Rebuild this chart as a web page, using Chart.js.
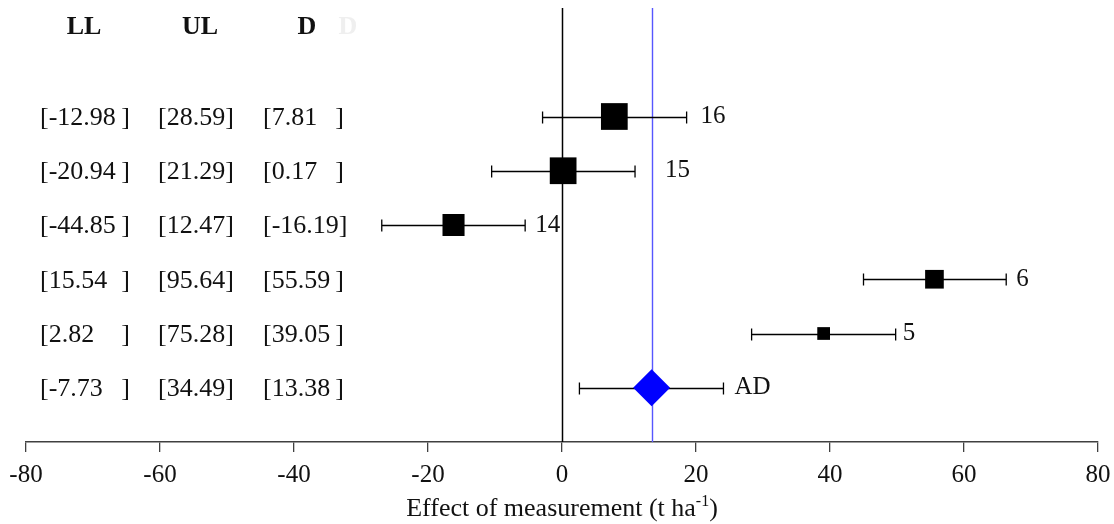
<!DOCTYPE html>
<html lang="en">
<head>
    <meta charset="UTF-8">
    <title>Effect of measurement</title>
    <script src="https://cdn.jsdelivr.net/npm/chart.js"></script>
    <style>
        html, body {
            margin: 0;
            padding: 0;
            background-color: #fff;
        }

        #chart-container {
            position: relative;
            width: 1114px;
            height: 524px;
        }
    </style>
</head>
<body>

    <div id="chart-container">
        <canvas id="forest-chart"></canvas>
    </div>

    <script>
        // rows, top to bottom
        const studies = ['16', '15', '14', '6', '5', 'AD'];
        const lowerLimit = ['-12.98', '-20.94', '-44.85', '15.54', '2.82', '-7.73'];
        const upperLimit = ['28.59', '21.29', '12.47', '95.64', '75.28', '34.49'];
        const effect = [7.81, 0.17, -16.19, 55.59, 39.05, 13.38];
        // whisker ends as they are drawn in the figure
        const barLow = [-2.9, -10.5, -26.9, 45.0, 28.3, 2.6];
        const barHigh = [18.6, 10.9, -5.5, 66.3, 49.8, 24.1];
        const xTicks = [-80, -60, -40, -20, 0, 20, 40, 60, 80];

        // styling only
        const markerRadius = [18.9, 18.9, 15.6, 13.2, 9.0, 18.5];
        const labelGap = [14, 30, 10, 10, 7, 11];

        const serif = "'Liberation Serif', 'Times New Roman', serif";
        const rowValue = studies.map((s, i) => studies.length - i);
        const last = studies.length - 1;

        const decor = {
            id: 'decor',
            beforeDatasetsDraw(chart) {
                const ctx = chart.ctx;
                const xs = chart.scales.x;
                const ys = chart.scales.y;
                const area = chart.chartArea;
                ctx.save();

                // zero line
                let px = Math.round(xs.getPixelForValue(0)) + 0.5;
                ctx.strokeStyle = '#000';
                ctx.lineWidth = 1.5;
                ctx.beginPath();
                ctx.moveTo(px, area.top);
                ctx.lineTo(px, area.bottom);
                ctx.stroke();

                // pooled effect line
                px = Math.round(xs.getPixelForValue(effect[last])) + 0.5;
                ctx.strokeStyle = '#5656ff';
                ctx.lineWidth = 1.4;
                ctx.beginPath();
                ctx.moveTo(px, area.top);
                ctx.lineTo(px, area.bottom);
                ctx.stroke();

                // whiskers
                ctx.strokeStyle = '#000';
                ctx.lineWidth = 1.3;
                studies.forEach((s, i) => {
                    const y = Math.round(ys.getPixelForValue(rowValue[i])) + 0.5;
                    const x1 = xs.getPixelForValue(barLow[i]);
                    const x2 = xs.getPixelForValue(barHigh[i]);
                    ctx.beginPath();
                    ctx.moveTo(x1, y);
                    ctx.lineTo(x2, y);
                    ctx.moveTo(x1, y - 6);
                    ctx.lineTo(x1, y + 6);
                    ctx.moveTo(x2, y - 6);
                    ctx.lineTo(x2, y + 6);
                    ctx.stroke();
                });
                ctx.restore();
            },
            afterDatasetsDraw(chart) {
                const ctx = chart.ctx;
                const xs = chart.scales.x;
                const ys = chart.scales.y;
                const area = chart.chartArea;
                ctx.save();
                ctx.fillStyle = '#111';
                ctx.textBaseline = 'middle';

                // column headers
                ctx.font = 'bold 26px ' + serif;
                ctx.textAlign = 'center';
                const headY = ys.getPixelForValue(7.65);
                ctx.fillText('LL', 84, headY);
                ctx.fillText('UL', 200, headY);
                ctx.fillText('D', 307, headY);
                ctx.fillStyle = '#efefef';
                ctx.fillText('D', 348, headY);
                ctx.fillStyle = '#111';

                // LL / UL / D table
                ctx.font = '26px ' + serif;
                ctx.textAlign = 'left';
                const bw = ctx.measureText(']').width;
                studies.forEach((s, i) => {
                    const y = ys.getPixelForValue(rowValue[i]) + 1.5;
                    let t = '[' + lowerLimit[i];
                    ctx.fillText(t, 40, y);
                    ctx.fillText(']', Math.max(40 + ctx.measureText(t).width, 130 - bw), y);

                    ctx.fillText('[' + upperLimit[i] + ']', 158, y);

                    t = '[' + effect[i].toFixed(2);
                    ctx.fillText(t, 263, y);
                    ctx.fillText(']', Math.max(263 + ctx.measureText(t).width, 344 - bw), y);
                });

                // study labels right of the whiskers
                ctx.font = '25px ' + serif;
                studies.forEach((s, i) => {
                    const y = ys.getPixelForValue(rowValue[i]);
                    ctx.fillText(s, xs.getPixelForValue(barHigh[i]) + labelGap[i], y);
                });

                // axis title with superscript
                ctx.textBaseline = 'alphabetic';
                const main = 'Effect of measurement (t ha';
                const sup = '-1';
                const tail = ')';
                ctx.font = '26px ' + serif;
                const wMain = ctx.measureText(main).width;
                const wTail = ctx.measureText(tail).width;
                ctx.font = '16px ' + serif;
                const wSup = ctx.measureText(sup).width;
                const cx = (area.left + area.right) / 2;
                let x = cx - (wMain + wSup + wTail) / 2;
                const base = 516;
                ctx.font = '26px ' + serif;
                ctx.fillText(main, x, base);
                x += wMain;
                ctx.font = '16px ' + serif;
                ctx.fillText(sup, x, base - 10);
                x += wSup;
                ctx.font = '26px ' + serif;
                ctx.fillText(tail, x, base);

                ctx.restore();
            }
        };

        // keep the plot area exactly where the figure has it
        const noPad = (scale) => {
            scale.paddingLeft = 0;
            scale.paddingRight = 0;
            scale.paddingTop = 0;
            scale.paddingBottom = 0;
        };

        new Chart(document.getElementById('forest-chart'), {
            type: 'scatter',
            data: {
                datasets: [
                    {
                        label: 'studies',
                        data: effect.slice(0, last).map((v, i) => ({ x: v, y: rowValue[i] })),
                        pointStyle: 'rect',
                        pointRadius: markerRadius.slice(0, last),
                        pointHoverRadius: markerRadius.slice(0, last),
                        backgroundColor: '#000',
                        borderWidth: 0
                    },
                    {
                        label: 'pooled',
                        data: [{ x: effect[last], y: rowValue[last] }],
                        pointStyle: 'rectRot',
                        pointRadius: markerRadius[last],
                        pointHoverRadius: markerRadius[last],
                        backgroundColor: '#0000ff',
                        borderWidth: 0
                    }
                ]
            },
            options: {
                responsive: true,
                maintainAspectRatio: false,
                animation: false,
                events: [],
                layout: {
                    autoPadding: false,
                    padding: { left: 26, right: 16, top: 8, bottom: 0 }
                },
                plugins: {
                    legend: { display: false },
                    tooltip: { enabled: false }
                },
                scales: {
                    x: {
                        type: 'linear',
                        min: xTicks[0],
                        max: xTicks[xTicks.length - 1],
                        afterBuildTicks: (scale) => {
                            scale.ticks = xTicks.map(v => ({ value: v }));
                        },
                        afterFit: (scale) => {
                            scale.height = 82;
                            noPad(scale);
                        },
                        ticks: {
                            color: '#111',
                            font: { family: serif, size: 25 },
                            padding: 8,
                            maxRotation: 0,
                            autoSkip: false
                        },
                        grid: {
                            drawOnChartArea: false,
                            drawTicks: true,
                            tickLength: 10,
                            color: '#404040',
                            lineWidth: 1.3
                        },
                        border: {
                            display: true,
                            color: '#404040',
                            width: 1.5
                        }
                    },
                    y: {
                        type: 'linear',
                        min: 0,
                        max: 8,
                        display: false,
                        afterFit: noPad
                    }
                }
            },
            plugins: [decor]
        });
    </script>

</body>
</html>
